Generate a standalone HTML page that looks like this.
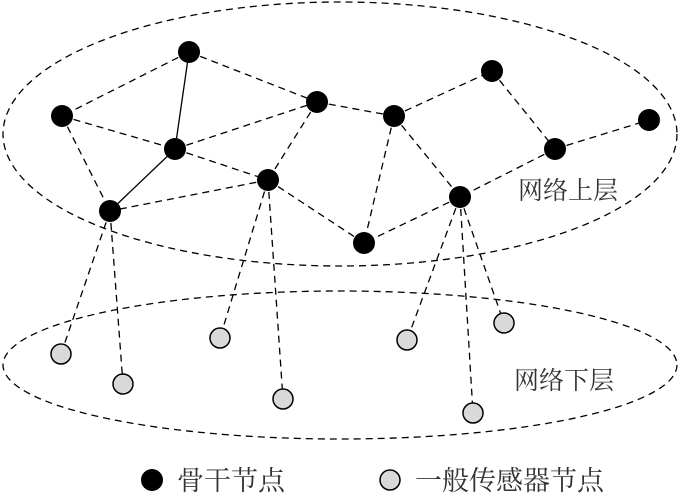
<!DOCTYPE html>
<html><head><meta charset="utf-8"><style>
html,body{margin:0;padding:0;background:#fff;}
svg{display:block}
text{font-family:"Liberation Serif","Noto Serif CJK SC","Noto Sans CJK SC",serif;fill:#333}
</style></head><body>
<svg width="680" height="495" viewBox="0 0 680 495" xmlns="http://www.w3.org/2000/svg">
<g fill="none" stroke="#000" stroke-width="1.3" stroke-dasharray="7,5">
<ellipse cx="340" cy="134" rx="337" ry="132"/>
<ellipse cx="340" cy="365" rx="337" ry="74"/>
<!-- upper dashed edges -->
<line x1="189" y1="52" x2="62" y2="116"/>
<line x1="189" y1="52" x2="317" y2="102"/>
<line x1="62" y1="116" x2="175" y2="149"/>
<line x1="62" y1="116" x2="110" y2="211"/>
<line x1="175" y1="149" x2="317" y2="102"/>
<line x1="175" y1="149" x2="268" y2="180"/>
<line x1="317" y1="102" x2="394" y2="116"/>
<line x1="317" y1="102" x2="268" y2="180"/>
<line x1="394" y1="116" x2="492" y2="71"/>
<line x1="394" y1="116" x2="364" y2="243"/>
<line x1="394" y1="116" x2="460" y2="197"/>
<line x1="492" y1="71" x2="555" y2="149"/>
<line x1="555" y1="149" x2="649" y2="120"/>
<line x1="555" y1="149" x2="460" y2="197"/>
<line x1="268" y1="180" x2="110" y2="211"/>
<line x1="268" y1="180" x2="364" y2="243"/>
<line x1="460" y1="197" x2="364" y2="243"/>
<!-- to lower -->
<line x1="110" y1="211" x2="61" y2="354"/>
<line x1="110" y1="211" x2="123" y2="384"/>
<line x1="268" y1="180" x2="220" y2="338"/>
<line x1="268" y1="180" x2="283" y2="399"/>
<line x1="460" y1="197" x2="407" y2="340"/>
<line x1="460" y1="197" x2="504" y2="323"/>
<line x1="460" y1="197" x2="473" y2="413"/>
</g>
<g stroke="#000" stroke-width="1.3">
<line x1="189" y1="52" x2="175" y2="149"/>
<line x1="175" y1="149" x2="110" y2="211"/>
</g>
<g fill="#000">
<circle cx="189" cy="52" r="11"/><circle cx="62" cy="116" r="11"/>
<circle cx="175" cy="149" r="11"/><circle cx="317" cy="102" r="11"/>
<circle cx="394" cy="116" r="11"/><circle cx="492" cy="71" r="11"/>
<circle cx="649" cy="120" r="11"/><circle cx="555" cy="149" r="11"/>
<circle cx="268" cy="180" r="11"/><circle cx="460" cy="197" r="11"/>
<circle cx="110" cy="211" r="11"/><circle cx="364" cy="243" r="11"/>
<circle cx="152" cy="480" r="11"/>
</g>
<g fill="#d9d9d9" stroke="#000" stroke-width="1.5">
<circle cx="61" cy="354" r="10"/><circle cx="123" cy="384" r="10"/>
<circle cx="220" cy="338" r="10"/><circle cx="283" cy="399" r="10"/>
<circle cx="407" cy="340" r="10"/><circle cx="504" cy="323" r="10"/>
<circle cx="473" cy="413" r="10"/>
<circle cx="390" cy="480" r="10"/>
</g>
<text x="518" y="199" font-size="25">网络上层</text>
<text x="514" y="389" font-size="25">网络下层</text>
<text x="177" y="490" font-size="27" fill="#000">骨干节点</text>
<text x="415" y="490" font-size="27" fill="#000">一般传感器节点</text>
</svg>
</body></html>
